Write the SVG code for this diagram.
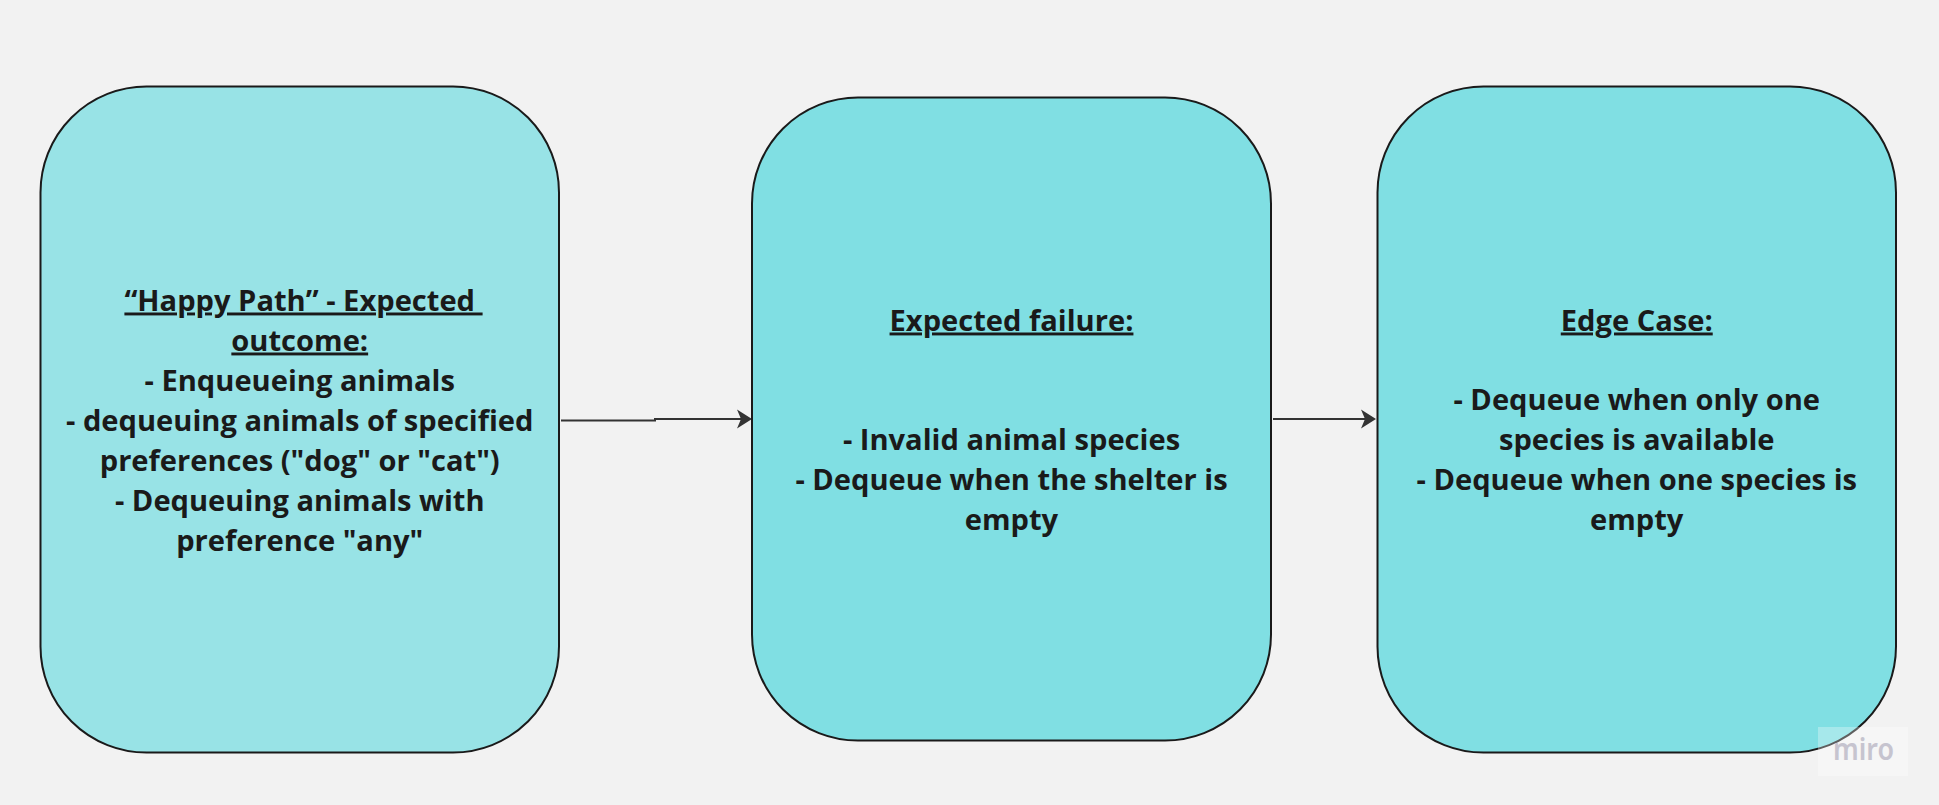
<svg xmlns="http://www.w3.org/2000/svg" width="1939" height="805" viewBox="0 0 1939 805">
  <style>
    .box { stroke: #1a1a1a; stroke-width: 2; }
    .b1 { fill: #98E3E6; }
    .b2 { fill: #80DFE3; }
    .t { font-family: "Open Sans", "Noto Sans", "Liberation Sans", sans-serif; font-weight: 700; font-size: 29.1px; fill: #1a1a1a; text-anchor: middle; }
    .u { text-decoration: underline; }
    .conn { fill: none; stroke: #333333; stroke-width: 2; }
    .wm { font-family: "Noto Sans", "Open Sans", sans-serif; font-weight: 600; font-size: 30px; fill: #C6C4CF; }
  </style>
  <defs>
    <marker id="arrow" markerUnits="userSpaceOnUse" markerWidth="16" markerHeight="20" viewBox="0 0 16 20" refX="4" refY="10" orient="auto">
      <path d="M0,0.5 L15,10 L0,19.5 L4,10 Z" fill="#333333"/>
    </marker>
  </defs>
  <rect x="0" y="0" width="1939" height="805" fill="#F2F2F2"/>

  <g id="connectors">
    <path class="conn" d="M561,420.5 L655,420.5 L655,419 L741,419" marker-end="url(#arrow)"/>
    <path class="conn" d="M1273,419 L1365,419" marker-end="url(#arrow)"/>
  </g>

  <g id="node-happy-path">
    <rect class="box b1" x="40.5" y="86.5" width="518.5" height="666" rx="106" ry="106"/>
    <text class="t u" x="303.5" y="310.5" xml:space="preserve">“Happy Path” - Expected </text>
    <text class="t u" x="299.75" y="350.5">outcome:</text>
    <text class="t" x="299.75" y="390.5">- Enqueueing animals</text>
    <text class="t" x="299.75" y="430.5">- dequeuing animals of specified</text>
    <text class="t" x="299.75" y="470.5">preferences ("dog" or "cat")</text>
    <text class="t" x="299.75" y="510.5">- Dequeuing animals with</text>
    <text class="t" x="299.75" y="550.5">preference "any"</text>
  </g>

  <g id="node-expected-failure">
    <rect class="box b2" x="752" y="97.5" width="519" height="643" rx="106" ry="106"/>
    <text class="t u" x="1011.5" y="330.5">Expected failure:</text>
    <text class="t" x="1011.5" y="450">- Invalid animal species</text>
    <text class="t" x="1011.5" y="490">- Dequeue when the shelter is</text>
    <text class="t" x="1011.5" y="529.5">empty</text>
  </g>

  <g id="node-edge-case">
    <rect class="box b2" x="1377.5" y="86.5" width="518.5" height="666" rx="106" ry="106"/>
    <text class="t u" x="1636.75" y="330.5">Edge Case:</text>
    <text class="t" x="1636.75" y="410">- Dequeue when only one</text>
    <text class="t" x="1636.75" y="450">species is available</text>
    <text class="t" x="1636.75" y="490">- Dequeue when one species is</text>
    <text class="t" x="1636.75" y="529.5">empty</text>
  </g>

  <g id="watermark">
    <rect x="1818" y="727" width="90" height="49" fill="#FFFFFF" fill-opacity="0.3"/>
    <text class="wm" x="1833" y="760" textLength="61" lengthAdjust="spacingAndGlyphs">miro</text>
  </g>
</svg>
